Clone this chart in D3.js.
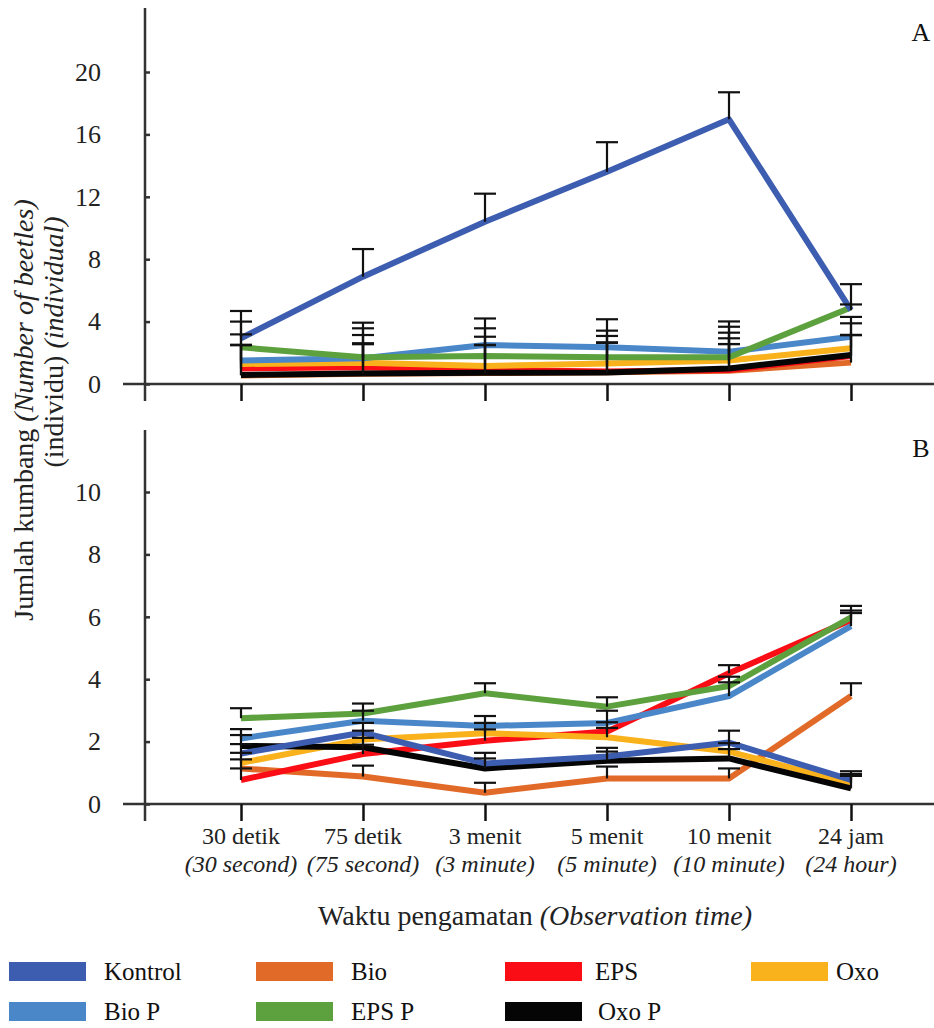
<!DOCTYPE html>
<html>
<head>
<meta charset="utf-8">
<script src="https://cdn.jsdelivr.net/npm/d3@7"></script>
<style>
  body { margin: 0; background: #fff; }
  svg, svg text { font-family: "Liberation Serif", "Tinos", "Times New Roman", "DejaVu Serif", serif; }
</style>
</head>
<body>
<svg id="chart" width="934" height="1028"></svg>
<script>
// categories (x axis)
const categories = ["30 detik", "75 detik", "3 menit", "5 menit", "10 menit", "24 jam"];
const categoriesEn = ["(30 second)", "(75 second)", "(3 minute)", "(5 minute)", "(10 minute)", "(24 hour)"];

const seriesNames = ["Kontrol", "Bio", "EPS", "Oxo", "Bio P", "EPS P", "Oxo P"];
const seriesColors = ["#3d5db0", "#e26a28", "#fb0d16", "#f9b11c", "#4a87c9", "#5da13f", "#050505"];

// panel A values
const aKontrol = [2.93, 6.88, 10.4, 13.6, 16.97, 4.74];
const aBio     = [0.55, 0.65, 0.7, 0.75, 0.85, 1.37];
const aEPS     = [1.0, 1.07, 0.9, 0.8, 0.9, 1.8];
const aOxo     = [1.28, 1.37, 1.15, 1.32, 1.5, 2.29];
const aBioP    = [1.5, 1.65, 2.5, 2.35, 2.07, 3.03];
const aEPSP    = [2.35, 1.71, 1.8, 1.71, 1.71, 4.9];
const aOxoP    = [0.58, 0.68, 0.72, 0.74, 1.0, 1.86];
// panel A error (upper)
const aKontrolErr = [1.75, 1.77, 1.8, 1.9, 1.73, 1.66];
const aBioErr     = [1.95, 1.9, 1.8, 1.9, 1.71, 1.77];
const aEPSErr     = [1.5, 1.53, 1.6, 1.85, 2.03, 1.34];
const aOxoErr     = [1.22, 1.77, 1.88, 1.76, 1.79, 1.6];
const aBioPErr    = [1.68, 1.92, 1.07, 1.07, 1.6, 1.27];
const aEPSPErr    = [1.65, 2.22, 2.4, 2.44, 2.3, 0.2];
const aOxoPErr    = [1.92, 1.92, 1.78, 1.91, 1.56, 1.28];

// panel B values
const bKontrol = [1.62, 2.29, 1.3, 1.52, 1.97, 0.77];
const bBio     = [1.14, 0.88, 0.36, 0.82, 0.82, 3.46];
const bEPS     = [0.77, 1.6, 2.03, 2.32, 4.19, 5.9];
const bOxo     = [1.32, 2.07, 2.27, 2.14, 1.68, 0.66];
const bBioP    = [2.1, 2.67, 2.5, 2.6, 3.46, 5.7];
const bEPSP    = [2.75, 2.9, 3.55, 3.12, 3.78, 5.98];
const bOxoP    = [1.86, 1.82, 1.14, 1.39, 1.46, 0.5];
// panel B error (upper)
const bKontrolErr = [0.3, 0.31, 0.34, 0.28, 0.38, 0.28];
const bBioErr     = [0.29, 0.35, 0.32, 0.38, 0.32, 0.41];
const bEPSErr     = [0.37, 0.3, 0.36, 0.3, 0.26, 0.3];
const bOxoErr     = [0.32, 0.28, 0.33, 0.3, 0.27, 0.3];
const bBioPErr    = [0.3, 0.32, 0.32, 0.39, 0.44, 0.42];
const bEPSPErr    = [0.32, 0.32, 0.32, 0.3, 0.3, 0.37];
const bOxoPErr    = [0.35, 0.3, 0.32, 0.29, 0.3, 0.4];

const aTicks = [0, 4, 8, 12, 16, 20];
const bTicks = [0, 2, 4, 6, 8, 10];

const FONT = "'Liberation Serif', Tinos, 'Times New Roman', 'DejaVu Serif', serif";
const svg = d3.select("#chart").style("font-family", FONT);
const axisX = 145;
const axisColor = "#333";

const x = d3.scalePoint().domain(categories).range([241, 851]);

// draw order: first drawn lies underneath
const drawOrder = ["Bio", "EPS", "Oxo", "Bio P", "EPS P", "Oxo P", "Kontrol"];

function drawPanel(cfg) {
  const y = d3.scaleLinear().domain(cfg.domain).range(cfg.range);
  const g = svg.append("g");

  // y axis line
  g.append("line")
    .attr("x1", axisX).attr("x2", axisX)
    .attr("y1", cfg.top).attr("y2", y(0) + 17)
    .attr("stroke", axisColor).attr("stroke-width", 2.5);

  // y axis ticks + labels
  const yAxis = g.append("g")
    .attr("transform", `translate(${axisX},0)`)
    .call(d3.axisLeft(y).tickValues(cfg.ticks).tickSize(22).tickPadding(22));
  yAxis.attr("font-family", null).attr("font-size", null);
  yAxis.select(".domain").remove();
  yAxis.selectAll(".tick line").attr("x2", 5).attr("stroke", axisColor).attr("stroke-width", 2.5);
  yAxis.selectAll(".tick text")
    .attr("fill", "#222").style("font-size", "26px")
    .style("font-family", FONT);

  // baseline
  g.append("line")
    .attr("x1", 123).attr("x2", 934)
    .attr("y1", y(0)).attr("y2", y(0))
    .attr("stroke", axisColor).attr("stroke-width", 2.5);

  // x ticks
  const xAxis = g.append("g")
    .attr("transform", `translate(0,${y(0)})`)
    .call(d3.axisBottom(x).tickSize(17).tickFormat(""));
  xAxis.select(".domain").remove();
  xAxis.selectAll(".tick line").attr("stroke", "#111").attr("stroke-width", 2.5);

  const line = d3.line().x((d, i) => x(categories[i])).y(d => y(d));

  drawOrder.forEach(name => {
    const i = seriesNames.indexOf(name);
    g.append("path")
      .datum(cfg.values[name])
      .attr("fill", "none")
      .attr("stroke", seriesColors[i])
      .attr("stroke-width", 6)
      .attr("stroke-linejoin", "round")
      .attr("d", line);
  });

  // error bars (upper only)
  seriesNames.forEach(name => {
    const vals = cfg.values[name];
    const errs = cfg.errors[name];
    const eb = g.append("g").attr("stroke", "#111").attr("stroke-width", 2.2);
    vals.forEach((v, i) => {
      const cx = x(categories[i]);
      eb.append("line")
        .attr("x1", cx).attr("x2", cx)
        .attr("y1", y(v)).attr("y2", y(v + errs[i]));
      eb.append("line")
        .attr("x1", cx - 11).attr("x2", cx + 11)
        .attr("y1", y(v + errs[i])).attr("y2", y(v + errs[i]));
    });
  });

  // panel letter
  g.append("text")
    .attr("x", 921).attr("y", cfg.letterY)
    .attr("text-anchor", "middle")
    .style("font-size", "26px").attr("fill", "#111")
    .text(cfg.letter);

  return y;
}

drawPanel({
  domain: [0, 20], range: [384, 72], top: 8, ticks: aTicks, letter: "A", letterY: 41,
  values: { "Kontrol": aKontrol, "Bio": aBio, "EPS": aEPS, "Oxo": aOxo, "Bio P": aBioP, "EPS P": aEPSP, "Oxo P": aOxoP },
  errors: { "Kontrol": aKontrolErr, "Bio": aBioErr, "EPS": aEPSErr, "Oxo": aOxoErr, "Bio P": aBioPErr, "EPS P": aEPSPErr, "Oxo P": aOxoPErr }
});

drawPanel({
  domain: [0, 10], range: [804, 492], top: 430, ticks: bTicks, letter: "B", letterY: 457,
  values: { "Kontrol": bKontrol, "Bio": bBio, "EPS": bEPS, "Oxo": bOxo, "Bio P": bBioP, "EPS P": bEPSP, "Oxo P": bOxoP },
  errors: { "Kontrol": bKontrolErr, "Bio": bBioErr, "EPS": bEPSErr, "Oxo": bOxoErr, "Bio P": bBioPErr, "EPS P": bEPSPErr, "Oxo P": bOxoPErr }
});

// x category labels (two lines)
const xl = svg.append("g").attr("fill", "#222").style("font-size", "24px");
categories.forEach((c, i) => {
  xl.append("text").attr("x", x(c)).attr("y", 844).attr("text-anchor", "middle").text(c);
  xl.append("text").attr("x", x(c)).attr("y", 872).attr("text-anchor", "middle")
    .style("font-style", "italic").text(categoriesEn[i]);
});

// x axis title
const xt = svg.append("text").attr("x", 535).attr("y", 925).attr("text-anchor", "middle")
  .attr("fill", "#222").style("font-size", "28px");
xt.append("tspan").text("Waktu pengamatan ");
xt.append("tspan").style("font-style", "italic").text("(Observation time)");

// y axis title (rotated, two lines)
const yt1 = svg.append("text").attr("transform", "translate(33,410) rotate(-90)")
  .attr("text-anchor", "middle").attr("fill", "#222").style("font-size", "28px");
yt1.append("tspan").text("Jumlah kumbang ");
yt1.append("tspan").style("font-style", "italic").text("(Number of beetles)");
const yt2 = svg.append("text").attr("transform", "translate(63,342) rotate(-90)")
  .attr("text-anchor", "middle").attr("fill", "#222").style("font-size", "28px");
yt2.append("tspan").text("(individu) ");
yt2.append("tspan").style("font-style", "italic").text("(individual)");

// legend
const legendPos = [
  { name: "Kontrol", x: 9, y: 962, tx: 104 },
  { name: "Bio", x: 256, y: 962, tx: 351 },
  { name: "EPS", x: 505, y: 962, tx: 595 },
  { name: "Oxo", x: 751, y: 962, tx: 836 },
  { name: "Bio P", x: 9, y: 1002, tx: 104 },
  { name: "EPS P", x: 256, y: 1002, tx: 351 },
  { name: "Oxo P", x: 505, y: 1002, tx: 598 }
];
const lg = svg.append("g");
legendPos.forEach(p => {
  const i = seriesNames.indexOf(p.name);
  lg.append("rect").attr("x", p.x).attr("y", p.y).attr("width", 77).attr("height", 19)
    .attr("fill", seriesColors[i]);
  lg.append("text").attr("x", p.tx).attr("y", p.y + 18).attr("fill", "#111")
    .style("font-size", "25px").text(p.name);
});
</script>
</body>
</html>
